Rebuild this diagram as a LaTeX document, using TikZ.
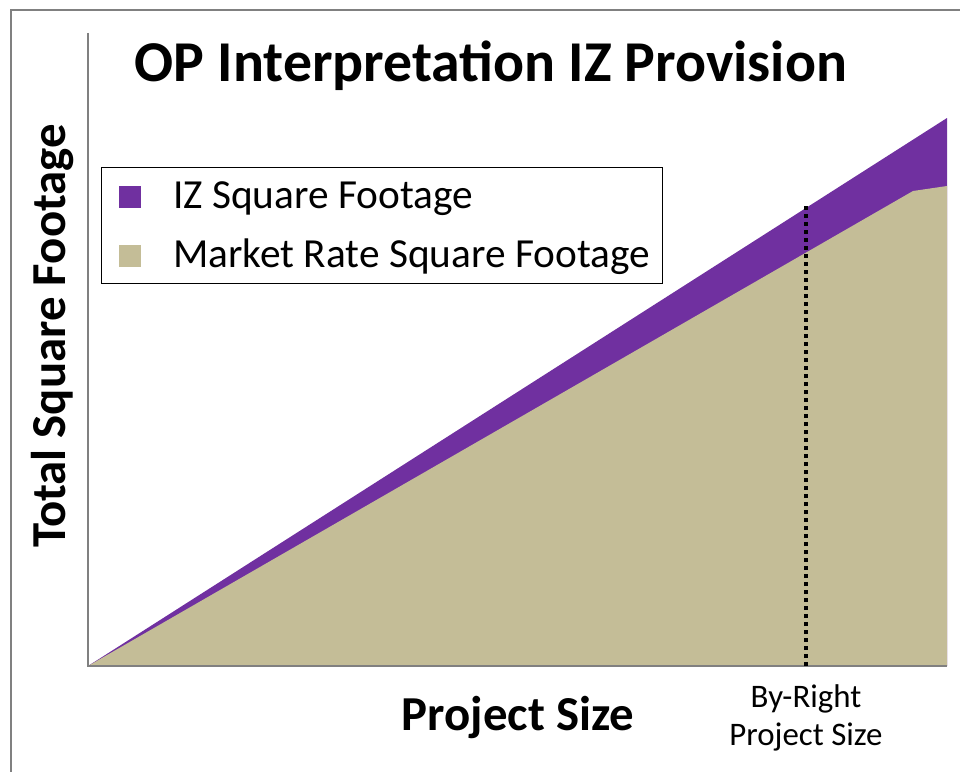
\documentclass[tikz,border=0pt]{standalone}
\usepackage{fontspec}
\setmainfont{Carlito}
\usetikzlibrary{positioning}
\definecolor{izpurple}{HTML}{7030A0}
\definecolor{mkttan}{HTML}{C4BD97}
\definecolor{framegray}{HTML}{808080}
\begin{document}
\begin{tikzpicture}[x=1bp, y=-1bp,
  axisline/.style={draw=framegray, line width=1.5bp},
  swatch/.style={minimum size=22bp, inner sep=0pt, anchor=north west},
  legtext/.style={anchor=base west, inner sep=0pt, font=\fontsize{41.5}{46}\selectfont},
  bigtitle/.style={anchor=base, inner sep=0pt, font=\bfseries\fontsize{58}{64}\selectfont},
  axtitle/.style={anchor=base, inner sep=0pt, font=\bfseries\fontsize{49}{54}\selectfont},
  smalllab/.style={anchor=base, inner sep=0pt, font=\fontsize{33}{38}\selectfont}
]
\useasboundingbox (0,0) rectangle (960,772);
% outer frame (runs off right and bottom)
\draw[framegray, line width=2bp] (11,772) -- (11,10) -- (960,10);
% named corners of the chart
\coordinate (origin) at (88,666);
\coordinate (ytop) at (88,33);
\coordinate (xend) at (947,666);
\coordinate (iztop) at (947,118);
\coordinate (mktknee) at (913,191);
\coordinate (mkttop) at (947,186);
% stacked areas
\fill[izpurple] (origin) -- (iztop) -- (xend) -- cycle;
\fill[mkttan] (origin) -- (mktknee) -- (mkttop) -- (xend) -- cycle;
\draw[axisline] (ytop) -- (origin) -- (xend);
% by-right marker
\coordinate (brbot) at (806,666);
\coordinate (brtop) at (806,205);
\draw[black, line width=4bp, dash pattern=on 4bp off 4bp] (brbot) -- (brtop);
% titles
\node[bigtitle] (title) at (491,82) {OP Interpretation IZ Provision};
\node[axtitle, rotate=90] (ytitle) at (65,336) {Total Square Footage};
\node[axtitle] (xtitle) at (518,730) {Project Size};
\node[smalllab] (brlab1) at (806,707) {By-Right};
\node[smalllab] (brlab2) at (806,745) {Project Size};
% legend
\node[draw=black, line width=1bp, minimum width=561bp, minimum height=116bp, anchor=north west, inner sep=0pt] (legend) at (101,167) {};
\node[swatch, fill=izpurple] (izkey) at (119,186) {};
\node[swatch, fill=mkttan] (mktkey) at (119,245) {};
\node[legtext] (izlab) at (173,208) {IZ Square Footage};
\node[legtext] (mktlab) at (173,267) {Market Rate Square Footage};
\end{tikzpicture}
\end{document}
